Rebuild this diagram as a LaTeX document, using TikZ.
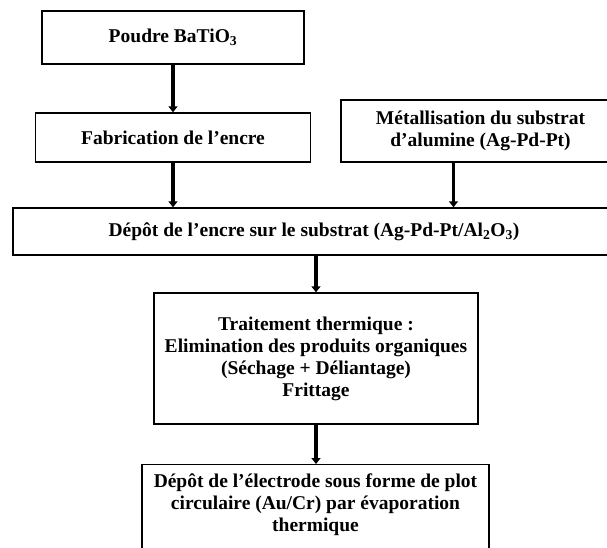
\documentclass[tikz,border=0pt]{standalone}
\usepackage{fontspec}
\setmainfont{Liberation Serif}
\usetikzlibrary{arrows.meta,positioning}

\begin{document}
\begin{tikzpicture}[x=1pt, y=-1pt,
					every node/.style={
						font=\fontsize{19.5}{22}\selectfont\bfseries
					},
					stepbox/.style={draw, line width=1.4pt, align=center, inner sep=0pt},
					flow/.style={line width=3.4pt, -{Triangle[width=9pt,length=6pt]}}
				]
				\useasboundingbox (0,0) rectangle (607,548);
				\node[stepbox, minimum width=262pt, minimum height=53pt] (poudre) at (173,37.5) {Poudre BaTiO\textsubscript{3}};
				\node[stepbox, minimum width=275pt, minimum height=49pt] (encre) at (173,137.5) {Fabrication de l’encre};
				\node[stepbox, minimum width=279pt, minimum height=62pt] (metal) at (480.5,131) {Métallisation du substrat\\d’alumine (Ag-Pd-Pt)};
				\node[stepbox, minimum width=602pt, minimum height=47pt] (depot) at (314,231.5) {Dépôt de l’encre sur le substrat (Ag-Pd-Pt/Al\textsubscript{2}O\textsubscript{3})};
				\node[stepbox, minimum width=324pt, minimum height=131pt] (traitement) at (316,358.5) {Traitement thermique :\\Elimination des produits organiques\\(Séchage + Déliantage)\\Frittage};
				\node[stepbox, anchor=north, minimum width=347pt, minimum height=120pt] (electrode) at (315.5,464) {};
				\node[below=6pt of electrode.north, align=center] (electrodetext) {Dépôt de l’électrode sous forme de plot\\circulaire (Au/Cr) par évaporation\\thermique};
				
				\draw[flow] (poudre) -- (encre);
				\draw[flow] (encre) -- (encre |- depot.north);
				\draw[flow] ([xshift=-27pt]metal.south) -- ([xshift=-27pt]metal.south |- depot.north);
				\draw[flow] (traitement.north |- depot.south) -- (traitement.north);
				\draw[flow] (traitement.south) -- (traitement.south |- electrode.north);
			\end{tikzpicture}
\end{document}
